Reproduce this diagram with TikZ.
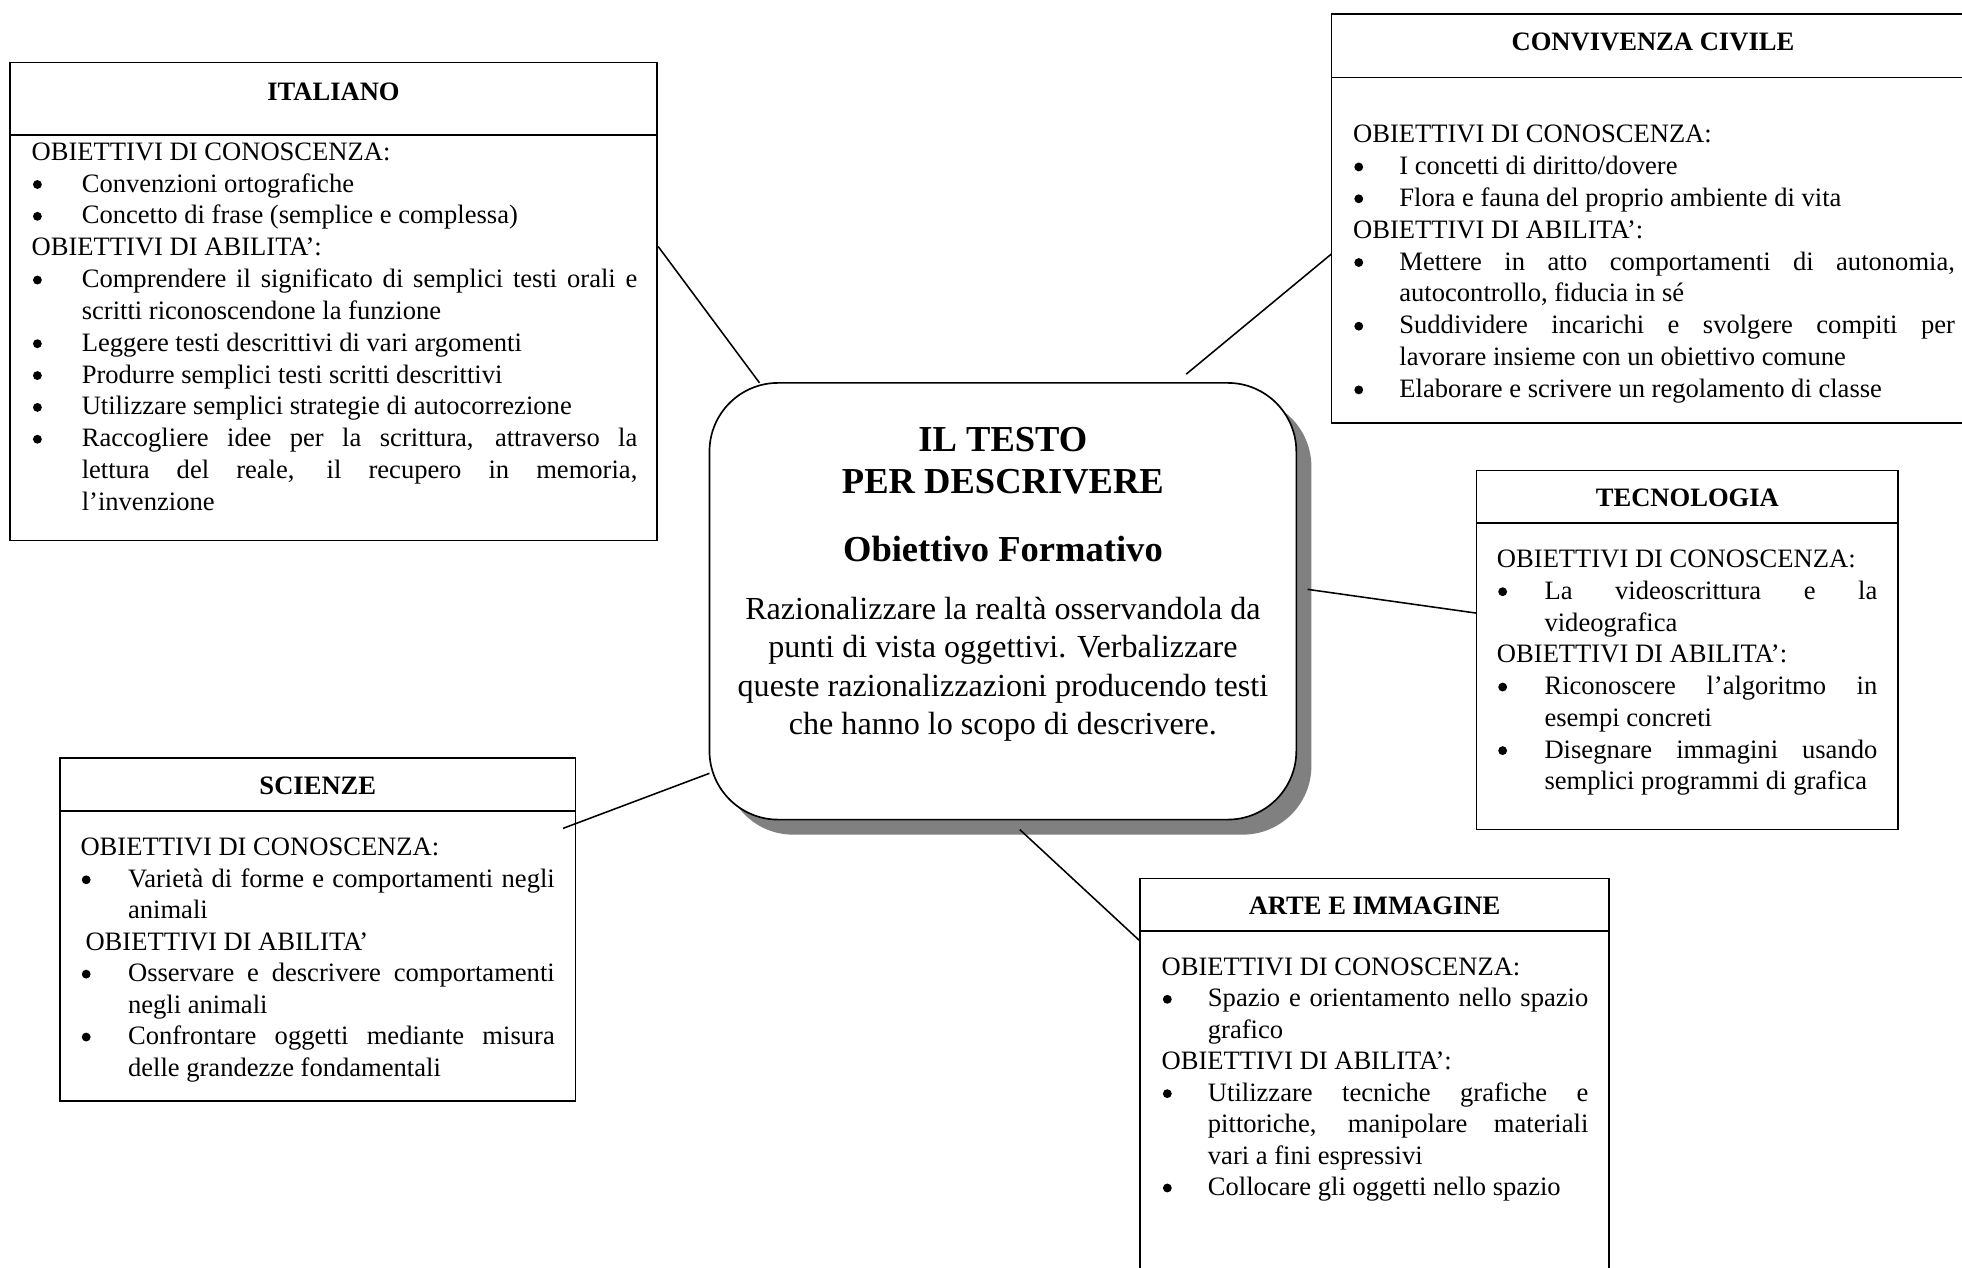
\documentclass[tikz,border=0pt]{standalone}
\usepackage{fontspec}
\setmainfont{Liberation Serif}
\usetikzlibrary{fit,shadows}
\definecolor{shadowgray}{RGB}{128,128,128}
\newlength\pu \setlength\pu{0.565pt}
\newlength\bt
\newlength\bls
\newcommand\bul{\tikz[baseline=-3.4pt]\fill (0,0) circle (2pt);}
\newcommand\bbox{\hbox to\bt{\hskip1\pu\relax\bul\hfil}}
\newcommand\pl[1]{\hbox to\hsize{#1\hfil}}
\newcommand\bi[1]{\hbox to\hsize{\bbox#1\hfil}}
\newcommand\bj[1]{\hbox to\hsize{\bbox#1}}
\newcommand\ci[1]{\hbox to\hsize{\hskip\bt\relax #1\hfil}}
\newcommand\cj[1]{\hbox to\hsize{\hskip\bt\relax #1}}
\newcommand\cl[1]{\hbox to\hsize{\hfil#1\hfil}}
\newcommand\blk[4]{\vtop{\hsize=#1\pu \bt=#2\pu\relax \fontsize{12}{#3}\selectfont #4}}
\begin{document}
\begin{tikzpicture}[x=0.565pt,y=-0.565pt, line width=0.75pt,
  subj/.style={draw, rectangle, inner sep=0pt, fill=white},
  ttl/.style={anchor=base, inner sep=0pt, font=\fontsize{12}{14}\selectfont\bfseries},
  txt/.style={anchor=base west, inner sep=0pt},
  big/.style={anchor=base, inner sep=0pt, font=\fontsize{16.5}{19}\selectfont\bfseries},
  conn/.style={line width=0.7pt}]
\useasboundingbox (0,0) rectangle (1568,1013);

% ---------- ITALIANO ----------
\node[subj, fit={(8,50) (525,432)}] (ita) {};
\draw (8,108) -- (525,108);
\node[ttl] (ita-t) at (266.5,80) {ITALIANO};
\node[txt] (ita-b) at (25,128) {\blk{484}{40}{14.38pt}{%
\pl{OBIETTIVI DI CONOSCENZA:}
\bi{Convenzioni ortografiche}
\bi{Concetto di frase (semplice e complessa)}
\pl{OBIETTIVI DI ABILITA’:}
\bj{Comprendere il significato di semplici testi orali e}
\ci{scritti riconoscendone la funzione}
\bi{Leggere testi descrittivi di vari argomenti}
\bi{Produrre semplici testi scritti descrittivi}
\bi{Utilizzare semplici strategie di autocorrezione}
\bj{Raccogliere idee per la scrittura, attraverso la}
\cj{lettura del reale, il recupero in memoria,}
\ci{l’invenzione}}};

% ---------- CONVIVENZA CIVILE ----------
\node[subj, fit={(1064,11) (1590,338)}] (civ) {};
\draw (1064,62) -- (1590,62);
\node[ttl] (civ-t) at (1321,40) {CONVIVENZA CIVILE};
\node[txt] (civ-b) at (1081,114) {\blk{481}{37}{14.38pt}{%
\pl{OBIETTIVI DI CONOSCENZA:}
\bi{I concetti di diritto/dovere}
\bi{Flora e fauna del proprio ambiente di vita}
\pl{OBIETTIVI DI ABILITA’:}
\bj{Mettere in atto comportamenti di autonomia,}
\ci{autocontrollo, fiducia in sé}
\bj{Suddividere incarichi e svolgere compiti per}
\ci{lavorare insieme con un obiettivo comune}
\bi{Elaborare e scrivere un regolamento di classe}}};

% ---------- TECNOLOGIA ----------
\node[subj, fit={(1180,376) (1517,663)}] (tec) {};
\draw (1180,418) -- (1517,418);
\node[ttl] (tec-t) at (1348.5,405) {TECNOLOGIA};
\node[txt] (tec-b) at (1196,453.5) {\blk{304}{38}{14.35pt}{%
\pl{OBIETTIVI DI CONOSCENZA:}
\bj{La videoscrittura e la}
\ci{videografica}
\pl{OBIETTIVI DI ABILITA’:}
\bj{Riconoscere l’algoritmo in}
\ci{esempi concreti}
\bj{Disegnare immagini usando}
\ci{semplici programmi di grafica}}};

% ---------- SCIENZE ----------
\node[subj, fit={(48,606) (460,880)}] (sci) {};
\draw (48,648) -- (460,648);
\node[ttl] (sci-t) at (254,635) {SCIENZE};
\node[txt] (sci-b) at (64,684) {\blk{379}{38}{14.2pt}{%
\pl{OBIETTIVI DI CONOSCENZA:}
\bj{Varietà di forme e comportamenti negli}
\ci{animali}
\pl{\hskip4\pu\relax OBIETTIVI DI ABILITA’}
\bj{Osservare e descrivere comportamenti}
\ci{negli animali}
\bj{Confrontare oggetti mediante misura}
\ci{delle grandezze fondamentali}}};

% ---------- ARTE E IMMAGINE ----------
\node[subj, fit={(911,702) (1286,1030)}] (art) {};
\draw (911,744) -- (1286,744);
\node[ttl] (art-t) at (1098.5,731) {ARTE E IMMAGINE};
\node[txt] (art-b) at (928,779.5) {\blk{341}{37}{14.2pt}{%
\pl{OBIETTIVI DI CONOSCENZA:}
\bj{Spazio e orientamento nello spazio}
\ci{grafico}
\pl{OBIETTIVI DI ABILITA’:}
\bj{Utilizzare tecniche grafiche e}
\cj{pittoriche, manipolare materiali}
\ci{vari a fini espressivi}
\bi{Collocare gli oggetti nello spazio}}};

% ---------- CENTRE ----------
\node[draw, fill=white, rounded corners=31pt, inner sep=0pt, fit={(567,306) (1036,655)},
      drop shadow={shadow xshift=6.8pt, shadow yshift=-6.8pt, opacity=1, fill=shadowgray}] (ctr) {};
\node[big] (ctr-t1) at (801.5,360.5) {IL TESTO};
\node[big] (ctr-t2) at (801.5,394.5) {PER DESCRIVERE};
\node[big] (ctr-t3) at (801.5,449) {Obiettivo Formativo};
\node[anchor=base, inner sep=0pt] (ctr-b) at (801.5,495) {\vtop{\hsize=460\pu \fontsize{14.5}{17.3}\selectfont
\cl{Razionalizzare la realtà osservandola da}
\cl{punti di vista oggettivi. Verbalizzare}
\cl{queste razionalizzazioni producendo testi}
\cl{che hanno lo scopo di descrivere.}}};

% ---------- CONNECTORS ----------
\coordinate (ita-o) at (526,197);  \coordinate (ctr-ita) at (607,306);
\coordinate (civ-o) at (1064,203); \coordinate (ctr-civ) at (948,299);
\coordinate (tec-o) at (1180,490); \coordinate (ctr-tec) at (1045,471);
\coordinate (sci-o) at (450,662);  \coordinate (ctr-sci) at (567,618);
\coordinate (art-o) at (911,752);  \coordinate (ctr-art) at (815,663);
\draw[conn] (ita-o) -- (ctr-ita);
\draw[conn] (civ-o) -- (ctr-civ);
\draw[conn] (tec-o) -- (ctr-tec);
\draw[conn] (sci-o) -- (ctr-sci);
\draw[conn] (art-o) -- (ctr-art);
\end{tikzpicture}
\end{document}
